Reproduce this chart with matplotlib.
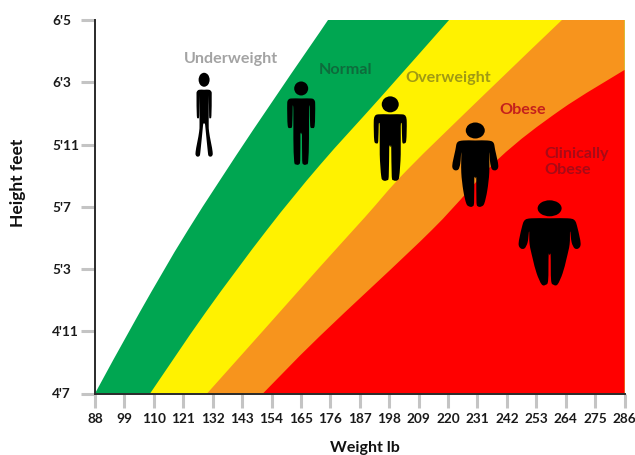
"""BMI-style chart of weight against height, with one silhouette per weight band."""
import matplotlib

matplotlib.use("Agg")

import matplotlib.pyplot as plt
from matplotlib.patches import Ellipse, PathPatch
from matplotlib.path import Path

plt.rcParams["font.family"] = ["Lato", "DejaVu Sans"]

# Axis ticks
weight_ticks = [88, 99, 110, 121, 132, 143, 154, 165, 176, 187, 198, 209, 220, 231, 242, 253, 264, 275, 286]
height_ticks = [55, 59, 63, 67, 71, 75, 79]
height_labels = ["4'7", "4'11", "5'3", "5'7", "5'11", "6'3", "6'5"]

# Lower edge of each band, as (weight lb, height in)
normal_weight = [88, 104.8, 122.8, 147.1, 172.1, 175.1]
normal_height = [55, 60.24, 65.51, 71.93, 78.23, 79]
over_weight = [108.6, 129.5, 152.3, 172.1, 194.9, 220.4]
over_height = [55, 60.24, 65.51, 69.68, 74.05, 79]
obese_weight = [129.9, 150.8, 172.1, 189, 204.7, 233.8, 262.6]
obese_height = [55, 59.02, 63.13, 66.34, 69.36, 74.25, 79]
clinical_weight = [150.8, 172.1, 214, 238.7, 261.9, 286]
clinical_height = [55, 58.69, 65.51, 70.05, 73.2, 75.79]

band_colors = ["#00a651", "#fff200", "#f7941d", "#ff0000"]

# Band names
band_names = ["Underweight", "Normal", "Overweight", "Obese", "Clinically\nObese"]
name_weight = [138.9, 181.6, 220.1, 247.8, 255.9]
name_height = [76.5, 75.8, 75.3, 73.2, 69.85]
name_colors = ["#a3a3a3", "#0e6b3c", "#a09a14", "#c4201c", "#a80a16"]
name_align = ["center", "center", "center", "center", "left"]

# Head centre of each silhouette
person_weight = [128.8, 165.1, 198.4, 230.2, 258.0]
person_height = [75.16, 74.6, 73.58, 71.9, 66.9]
head_rx = [5.5, 7, 8.5, 9.5, 12]
head_ry = [7, 7, 8, 8, 8]

# Right half of each body outline, in pixels from the head centre (y down)
body_outlines = [
    [(0, 10), (5, 10), (7.3, 12), (7.6, 16), (7.3, 36), (6, 38.5), (5, 36), (4.8, 15), (4.6, 40), (5, 52),
     (8.5, 72), (7.5, 76.5), (4.5, 76), (3.5, 70), (1.5, 50), (0.8, 44), (0, 44)],
    [(0, 10), (10, 10), (13, 11.5), (14, 16), (13.5, 37), (11, 39.5), (9, 37), (8.5, 18), (7.8, 22), (7.8, 50),
     (7, 73), (5, 76), (2.5, 76), (1, 72), (0.8, 46), (0, 46)],
    [(0, 10), (12, 10), (15.5, 12), (16.5, 18), (16, 36), (14, 39), (12, 37), (11.5, 20), (10.5, 22), (10.5, 50),
     (9, 72), (7, 76), (3.5, 76), (1.5, 72), (1, 43), (0, 43)],
    [(0, 10), (12, 10), (18, 12), (20, 20), (23, 35), (21, 39.5), (17, 39), (15, 33), (14, 22), (14, 42),
     (12, 60), (9, 73), (6, 76), (3, 76), (1.2, 72), (1, 48), (0, 48)],
    [(0, 10), (18, 10), (25, 12), (28, 20), (31, 35), (29, 40), (25, 40), (22, 34), (20.5, 23), (20, 36),
     (17, 50), (13, 65), (8, 76), (4, 76.5), (1.5, 72), (1, 47), (0, 47)],
]

# Pixels to data units on this figure's axes
LB_PER_PX = 198 / 529.5
IN_PER_PX = 24 / 373.5


def spline_path(points, closed=False, tail=()):
    """Catmull-Rom through points, then straight lines along tail, as a bezier Path."""
    n = len(points)
    verts = [points[0]]
    codes = [Path.MOVETO]
    last = n if closed else n - 1
    for i in range(last):
        if closed:
            p0, p1, p2, p3 = points[i - 1], points[i], points[(i + 1) % n], points[(i + 2) % n]
        else:
            p0, p1, p2, p3 = points[max(i - 1, 0)], points[i], points[i + 1], points[min(i + 2, n - 1)]
        verts.append((p1[0] + (p2[0] - p0[0]) / 6, p1[1] + (p2[1] - p0[1]) / 6))
        verts.append((p2[0] - (p3[0] - p1[0]) / 6, p2[1] - (p3[1] - p1[1]) / 6))
        verts.append(p2)
        codes += [Path.CURVE4] * 3
    for corner in tail:
        verts.append(corner)
        codes.append(Path.LINETO)
    verts.append(verts[0])
    codes.append(Path.CLOSEPOLY)
    return Path(verts, codes)


def draw_person(ax, weight, height, rx, ry, outline):
    head = Ellipse((weight, height), 2 * rx * LB_PER_PX, 2 * ry * IN_PER_PX, color="black", lw=0, zorder=4)
    ax.add_patch(head)
    right = [(weight + dx * LB_PER_PX, height - dy * IN_PER_PX) for dx, dy in outline]
    left = [(weight - dx * LB_PER_PX, height - dy * IN_PER_PX) for dx, dy in reversed(outline[1:-1])]
    ax.add_patch(PathPatch(spline_path(right + left, closed=True), facecolor="black", lw=0, zorder=4))


fig = plt.figure(figsize=(6.35, 4.55), dpi=100)
ax = fig.add_axes([95 / 635, 1 - 393.5 / 455, 529.5 / 635, 373.5 / 455])
ax.set_xlim(88, 286)
ax.set_ylim(55, 79)

# Paint bands from lightest to heaviest, each one covering everything to its lower right
edges = [
    (normal_weight, normal_height),
    (over_weight, over_height),
    (obese_weight, obese_height),
    (clinical_weight, clinical_height),
]
for (xs, ys), color in zip(edges, band_colors):
    corners = [(286, 79), (286, 55)] if ys[-1] == 79 else [(286, 55)]
    band = spline_path(list(zip(xs, ys)), tail=corners)
    ax.add_patch(PathPatch(band, facecolor=color, lw=0, zorder=1))

for i in range(len(person_weight)):
    draw_person(ax, person_weight[i], person_height[i], head_rx[i], head_ry[i], body_outlines[i])

for i in range(len(band_names)):
    ax.text(name_weight[i], name_height[i], band_names[i], color=name_colors[i], ha=name_align[i], va="center",
            fontsize=11.6, fontweight="bold", linespacing=1.2, zorder=5)

ax.set_xticks(weight_ticks)
ax.set_yticks(height_ticks)
ax.set_yticklabels(height_labels, ha="left")
ax.tick_params(axis="x", length=10, width=2.2, color="#c4c4c4", pad=4, labelsize=9.8, labelcolor="#1a1a1a")
ax.tick_params(axis="y", length=10, width=2.2, color="#c4c4c4", pad=21, labelsize=9.8, labelcolor="#1a1a1a")
for label in ax.get_xticklabels() + ax.get_yticklabels():
    label.set_fontweight("bold")

for side in ["top", "right"]:
    ax.spines[side].set_visible(False)
for side in ["left", "bottom"]:
    ax.spines[side].set_color("#2a2a2a")
    ax.spines[side].set_linewidth(1.4)
    ax.spines[side].set_zorder(6)

ax.set_xlabel("Weight lb", fontsize=11.5, fontweight="bold", color="#111111", va="center")
ax.xaxis.set_label_coords(0.51, -0.146)
ax.set_ylabel("Height feet", fontsize=12.5, fontweight="bold", color="#111111", va="center")
ax.yaxis.set_label_coords(-0.1454, 0.5636)

fig.savefig("out.png", dpi=100, facecolor="white")
